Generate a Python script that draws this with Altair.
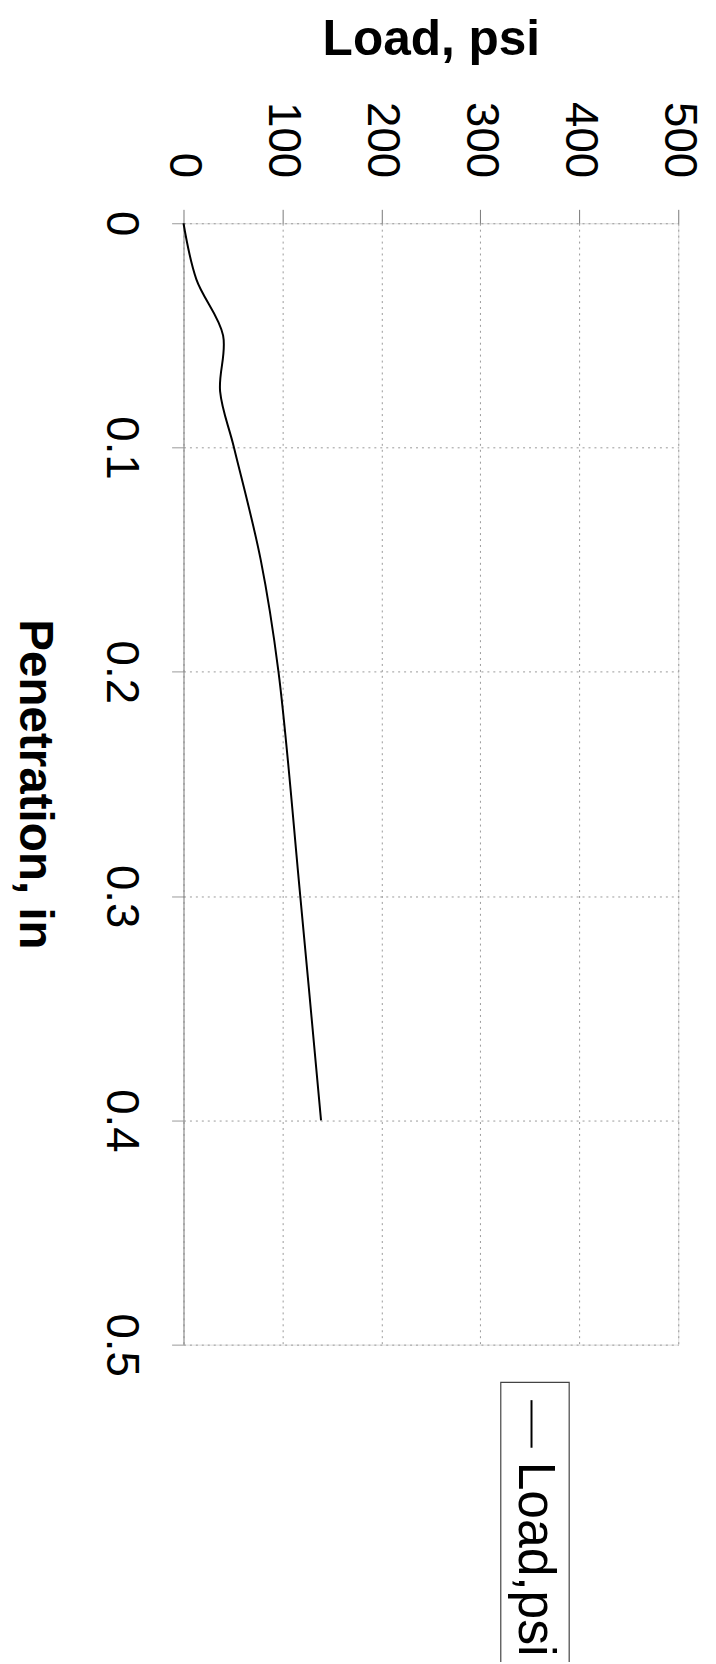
import altair as alt
import pandas as pd

# Data read from the (rotated) chart
penetration = [0, 0.025, 0.05, 0.075, 0.1, 0.15, 0.2, 0.3, 0.4]
load_psi = [0, 13, 40, 37, 51, 78, 96, 118, 139]
load_ticks = [0, 100, 200, 300, 400, 500]
pen_ticks = [0, 0.1, 0.2, 0.3, 0.4, 0.5]
series_name = "Load,psi"

df = pd.DataFrame({"pen": penetration, "load": load_psi})

FONT = "Liberation Sans"
W, H = 499, 1131

base = alt.Chart(df)

line = base.mark_line(color="black", strokeWidth=2, interpolate="catmull-rom").encode(
    x=alt.X(
        "load:Q",
        scale=alt.Scale(domain=[0, 500], nice=False),
        axis=alt.Axis(
            orient="top",
            values=load_ticks,
            title="Load, psi",
            labelAngle=90,
            labelAlign="right",
            labelBaseline="middle",
            labelFontSize=46,
            labelFont=FONT,
            labelColor="black",
            labelPadding=32,
            tickSize=14,
            tickColor="#777",
            domain=False,
            grid=True,
            gridColor="#999",
            gridDash=[2, 4],
            titleFontSize=50,
            titleFont=FONT,
            titleFontWeight="bold",
            titleColor="black",
            titleBaseline="alphabetic",
            titleY=-170,
        ),
    ),
    y=alt.Y(
        "pen:Q",
        scale=alt.Scale(domain=[0, 0.5], nice=False, reverse=True),
        axis=alt.Axis(
            orient="left",
            values=pen_ticks,
            format="~g",
            title="Penetration, in",
            labelAngle=90,
            labelAlign="center",
            labelBaseline="top",
            labelFontSize=46,
            labelFont=FONT,
            labelColor="black",
            labelPadding=30,
            tickSize=12,
            tickColor="#999",
            domain=True,
            domainColor="#888",
            grid=True,
            gridColor="#999",
            gridDash=[2, 4],
            titleFontSize=48,
            titleFont=FONT,
            titleFontWeight="bold",
            titleColor="black",
            titleAngle=90,
            titleAlign="center",
            titleBaseline="middle",
            titleX=-151,
            titleY=H / 2,
        ),
    ),
    order=alt.Order("pen:Q"),
)

leg = pd.DataFrame({"name": [series_name]})
leg_box = alt.Chart(leg).mark_rect(fill=None, stroke="#444", strokeWidth=1.2).encode(
    x=alt.value(320), x2=alt.value(389), y=alt.value(1169), y2=alt.value(1520)
)
leg_sym = alt.Chart(leg).mark_rule(color="black", strokeWidth=2).encode(
    x=alt.value(351), y=alt.value(1187), y2=alt.value(1235)
)
leg_text = alt.Chart(leg).mark_text(
    angle=90, align="left", baseline="middle", fontSize=52, font=FONT, color="black"
).encode(x=alt.value(354), y=alt.value(1249), text="name:N")

chart = (
    alt.layer(line, leg_box, leg_sym, leg_text)
    .properties(
        width=W,
        height=H,
        autosize=alt.AutoSizeParams(type="none"),
        padding={"left": 177, "top": 210, "right": 30, "bottom": 313},
    )
    .configure_view(stroke=None)
    .configure(background="white")
)

chart.save("out.html", embed_options={"renderer": "svg", "actions": False})
